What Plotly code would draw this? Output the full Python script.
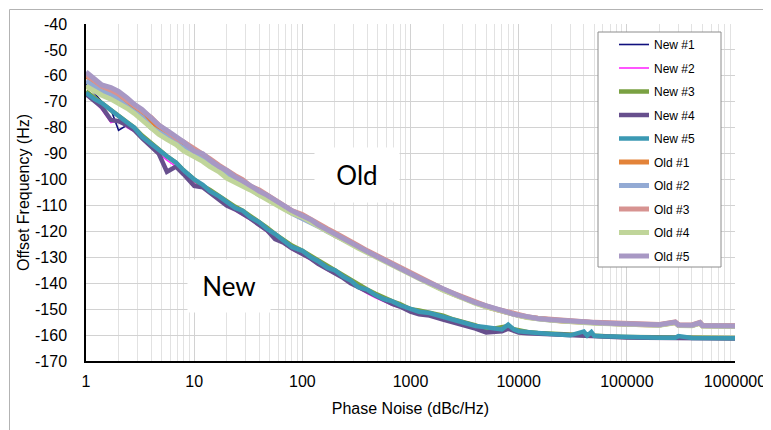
import plotly.graph_objects as go

freq = [1, 1.2, 1.4, 1.7, 2, 2.4, 2.8, 3.3, 4, 4.7,
        5.6, 6.8, 8, 10, 12, 14, 17, 20, 24, 28,
        33, 40, 47, 56, 68, 80, 100, 120, 140, 170,
        200, 240, 280, 330, 400, 470, 560, 680, 800, 1000,
        1200, 1500, 2000, 2500, 3000, 4000, 5000, 6000, 7000, 8000,
        9000, 10000, 12000, 15000, 20000, 25000, 30000, 40000, 43000, 47000,
        50000, 60000, 80000, 100000, 150000, 200000, 280000, 300000, 400000, 474000,
        500000, 700000, 1000000]

new1 = [-63, -67, -70, -73, -81, -79, -80.5, -83, -86, -89,
        -91.5, -94, -97, -100.5, -102, -104, -107, -109, -110.5, -112.5,
        -114.5, -117, -119, -121.5, -124, -125.5, -128, -130, -132, -134,
        -135.5, -137.5, -139.5, -141, -143, -144.5, -146, -147.5, -148.5, -150.5,
        -151, -152, -153, -154.5, -155.5, -156.7, -157.3, -157.8, -157.6, -157,
        -158, -158.5, -159, -159.3, -159.6, -159.9, -160.1, -160.2, -160.3, -160.3,
        -160.4, -160.5, -160.7, -160.8, -160.9, -161, -161, -161, -161.1, -161.1,
        -161.1, -161.2, -161.2]
new2 = [-67.5, -70, -73, -78, -77, -80, -81.5, -84, -87.5, -90,
        -92.5, -95, -98, -101, -103.5, -105.5, -108, -110, -112, -113.5,
        -115.5, -118, -120, -122.5, -125, -127, -129, -131, -133, -135,
        -136.5, -138.5, -140, -142, -144, -145.5, -147, -148.5, -149.5, -151,
        -151.5, -152.5, -153.5, -154.5, -155.5, -156.8, -157.5, -158, -157.8, -157.2,
        -158.2, -158.7, -159.1, -159.4, -159.7, -160, -160.2, -160.3, -160.4, -160.4,
        -160.5, -160.6, -160.8, -160.9, -161, -161, -161.1, -161.1, -161.1, -161.2,
        -161.2, -161.2, -161.3]
new3 = [-66, -68.5, -70.5, -73, -75.5, -78, -80, -83, -86, -88.5,
        -91, -93.5, -96.5, -100, -102.5, -104, -106.5, -108.5, -110.5, -112,
        -114, -116.5, -118.5, -121, -123.5, -125.5, -127.5, -129.5, -131.5, -133.5,
        -135, -137, -139, -140.5, -142.5, -144, -145.5, -147, -148, -150,
        -150.5, -151.5, -152.5, -154, -155, -156.3, -158, -157.5, -157.3, -156.5,
        -157.7, -158.2, -158.8, -159.2, -159.5, -159.8, -160, -160.1, -160.2, -160.2,
        -160.3, -160.4, -160.6, -160.7, -160.8, -160.9, -160.9, -160.9, -161, -161,
        -161, -161.1, -161.1]
new4 = [-67, -69.5, -72, -77, -77.5, -79, -81, -84, -87, -90,
        -97, -95, -98, -102.5, -103, -105, -107.5, -110, -111.5, -113,
        -115, -117.5, -119.5, -123, -124.5, -126.5, -128.5, -130.5, -132.5, -134.5,
        -136, -138, -140, -141.5, -143.5, -145, -146.5, -148, -149, -151,
        -152, -152.5, -154, -155, -156, -157.5, -159, -158.5, -158.5, -157.5,
        -158.5, -159, -159.3, -159.5, -159.8, -160, -160.2, -160.4, -160.4, -160.4,
        -160.5, -160.6, -160.8, -160.9, -161, -161.1, -161.1, -161.1, -161.2, -161.2,
        -161.2, -161.3, -161.3]
new5 = [-66.5, -69, -70.5, -73, -75.5, -78, -80, -83.5, -86, -88.5,
        -91, -93.5, -96.5, -100, -102, -104.5, -106.5, -108.5, -111, -112,
        -114.5, -116.5, -119, -121, -123.5, -126, -127.5, -130, -131.5, -134,
        -135, -137.5, -139, -141.5, -142.5, -144.5, -146, -147, -148.5, -150,
        -151, -151.5, -153, -154, -155, -156.5, -157, -157.5, -157.8, -156,
        -157.8, -158.5, -159, -159.2, -159.6, -160, -160.1, -158.6, -160.2, -158.8,
        -160.3, -160.5, -160.7, -160.8, -160.9, -161, -161, -160.4, -161.1, -161.1,
        -161.1, -161.2, -161.2]

old1 = [-60, -62.5, -64.5, -66, -67.5, -70, -72.5, -74, -77, -80,
        -82, -84, -86.5, -88.5, -91, -93, -95.5, -97.5, -99.5, -101,
        -103, -105, -107, -108.5, -111, -112.5, -114.5, -116, -117.5, -119.5,
        -121.5, -123, -124.5, -126, -128, -129.5, -131, -132.8, -134.2, -136.3,
        -138, -140, -142.5, -144.2, -145.6, -147.7, -149, -150, -150.8, -151.4,
        -152, -152.4, -153.1, -153.7, -154.2, -154.6, -154.8, -155.1, -155.2, -155.2,
        -155.3, -155.4, -155.6, -155.8, -156, -156.1, -155.2, -156.2, -156.3, -155.4,
        -156.4, -156.5, -156.6]
old2 = [-62, -64, -66, -67, -69.5, -72, -74, -76, -80, -81.5,
        -83.5, -86, -88, -90.5, -92, -94, -96.5, -98, -100, -101.5,
        -103.5, -106, -107, -109, -111.5, -113, -115, -116.5, -118, -120,
        -121.5, -123.5, -125, -126.5, -128, -129.5, -131.2, -133, -134.4, -136.5,
        -138.2, -140, -142.5, -144.2, -145.6, -147.6, -148.9, -150, -150.8, -151.4,
        -152, -152.4, -153.1, -153.7, -154.2, -154.5, -154.8, -155.1, -155.2, -155.2,
        -155.3, -155.4, -155.6, -155.8, -156, -156.1, -155.1, -156.2, -156.3, -155.3,
        -156.4, -156.5, -156.6]
old3 = [-59.5, -62, -64, -65.5, -67, -69.5, -71.5, -73.5, -76, -79,
        -81.5, -84, -85.5, -88, -90, -92, -94.5, -96.5, -98.5, -100,
        -102.5, -104, -106, -108, -110, -112, -113.5, -115.5, -117, -119,
        -120.5, -122.5, -124, -125.5, -127.5, -129, -130.5, -132.5, -134, -136,
        -137.8, -139.6, -142.2, -143.9, -145.3, -147.4, -148.7, -149.8, -150.6, -151.2,
        -151.8, -152.2, -152.9, -153.5, -154, -154.3, -154.6, -154.9, -155, -155,
        -155.1, -155.2, -155.4, -155.6, -155.8, -155.9, -154.9, -156, -156.1, -155.1,
        -156.2, -156.3, -156.4]
old4 = [-64, -66, -67.5, -69, -70.5, -72.5, -74.5, -77, -80, -82.5,
        -84.5, -86.5, -89, -91, -93, -95, -97, -99.5, -101, -102.5,
        -104, -106, -107.5, -109.5, -111.5, -113, -114.5, -116.5, -118, -120,
        -121.5, -123.5, -125, -126.5, -128.3, -129.8, -131.4, -133, -134.5, -136.5,
        -138.3, -140.2, -142.7, -144.4, -145.8, -147.8, -149.1, -150.1, -150.9, -151.5,
        -152.1, -152.5, -153.2, -153.8, -154.3, -154.6, -154.9, -155.2, -155.3, -155.3,
        -155.4, -155.5, -155.7, -155.9, -156.1, -156.2, -155.3, -156.3, -156.4, -155.4,
        -156.5, -156.6, -156.7]
old5 = [-58.5, -61.5, -63.5, -64.5, -66, -68.5, -71, -73, -76.5, -79,
        -81, -83.5, -85.5, -89, -90, -92.5, -95, -96.5, -99, -100.5,
        -102.5, -104.5, -106, -108, -110.5, -112, -114, -115.5, -117.5, -119.5,
        -121, -123, -124.5, -126, -127.8, -129.3, -131, -132.7, -134.2, -136.2,
        -138, -139.8, -142.3, -144, -145.4, -147.5, -148.8, -149.9, -150.7, -151.3,
        -151.9, -152.3, -153, -153.6, -154.1, -154.4, -154.7, -155, -155.1, -155.1,
        -155.2, -155.3, -155.5, -155.7, -155.9, -156, -155, -156.1, -156.2, -155.2,
        -156.3, -156.4, -156.5]

series_names = ["New #1", "New #2", "New #3", "New #4", "New #5",
                "Old #1", "Old #2", "Old #3", "Old #4", "Old #5"]
series_values = [new1, new2, new3, new4, new5, old1, old2, old3, old4, old5]
series_colors = ["#10107e", "#ff2bff", "#7aa142", "#674f8d", "#3b99b3",
                 "#e38339", "#93aad4", "#d79391", "#c0d59a", "#a898c4"]
series_widths = [1.6, 1.6, 4.5, 4.5, 4.5, 5, 5, 5, 5, 5]

x_tick_vals = [1, 10, 100, 1000, 10000, 100000, 1000000]
x_tick_text = ["1", "10", "100", "1000", "10000", "100000", "1000000"]
y_tick_vals = [-170, -160, -150, -140, -130, -120, -110, -100, -90, -80, -70, -60, -50, -40]
y_tick_text = ["-170", "-160", "-150", "-140", "-130", "-120", "-110", "-100",
               "-90", "-80", "-70", "-60", "-50", "-40"]

fig = go.Figure()
for nm, vals, col, w in zip(series_names, series_values, series_colors, series_widths):
    fig.add_trace(go.Scatter(x=freq, y=vals, mode="lines", name=nm,
                             legendgroup=nm,
                             line=dict(color=col, width=w)))

minor_vals = [m * 10 ** k for k in range(6) for m in range(2, 10)]

# page body has an 8px margin: screen = figure + 8
OFF = 8
W, H = 771, 422
L, T = 86 - OFF, 24 - OFF
R = W - (735 - OFF)
B = H - (361 - OFF)
pw, ph = W - L - R, H - T - B

def px(xs):
    return (xs - OFF - L) / pw

def py(ys):
    return (H - B - (ys - OFF)) / ph

fig.update_layout(
    width=W, height=H,
    margin=dict(l=L, r=R, t=T, b=B, autoexpand=False),
    paper_bgcolor="white", plot_bgcolor="white",
    font=dict(family="Liberation Sans, Arial, sans-serif", color="black"),
    showlegend=True,
    legend=dict(x=px(614), y=py(30), xanchor="left", yanchor="top",
                bgcolor="rgba(0,0,0,0)", borderwidth=0,
                font=dict(size=12, family="Liberation Sans, Arial, sans-serif"),
                tracegroupgap=4.5, itemwidth=30),
    xaxis=dict(type="log", range=[0, 6], tickvals=x_tick_vals, ticktext=x_tick_text,
               showgrid=True, gridcolor="#d2d2d2", gridwidth=1,
               minor=dict(tickvals=minor_vals, showgrid=True, gridcolor="#e2e2e2", gridwidth=1, ticks=""),
               showline=True, linecolor="black", linewidth=1.5, ticks="",
               tickfont=dict(size=16), ticklabelstandoff=5,
               title=dict(text="Phase Noise (dBc/Hz)", font=dict(size=16), standoff=14),
               zeroline=False, automargin=False),
    yaxis=dict(range=[-170, -40], tickvals=y_tick_vals, ticktext=y_tick_text,
               showgrid=True, gridcolor="#d2d2d2", gridwidth=1,
               showline=True, linecolor="black", linewidth=1.5, ticks="",
               tickfont=dict(size=16), ticklabelstandoff=14,
               title=dict(text="Offset Frequency (Hz)", font=dict(size=16), standoff=1),
               zeroline=False, automargin=False),
)

# legend box and outer chart border
fig.add_shape(type="rect", xref="paper", yref="paper",
              x0=px(598), x1=px(721), y0=py(267), y1=py(32),
              fillcolor="white", line=dict(color="#8c8c8c", width=1), layer="above")
fig.add_shape(type="rect", xref="paper", yref="paper",
              x0=px(9.5), x1=px(800), y0=py(470), y1=py(9.5),
              fillcolor="rgba(0,0,0,0)", line=dict(color="#b3b3b3", width=1), layer="above")

fig.add_annotation(text="Old", xref="paper", yref="paper", x=px(357), y=py(175),
                   xanchor="center", yanchor="middle",
                   showarrow=False, width=84, height=54, borderpad=0, bgcolor="white",
                   font=dict(size=26, family="Lato, Open Sans, sans-serif", color="black"))
fig.add_annotation(text="New", xref="paper", yref="paper", x=px(229), y=py(286),
                   xanchor="center", yanchor="middle",
                   showarrow=False, width=82, height=52, borderpad=0, bgcolor="white",
                   font=dict(size=26, family="Lato, Open Sans, sans-serif", color="black"))

fig.write_html("out.html")
